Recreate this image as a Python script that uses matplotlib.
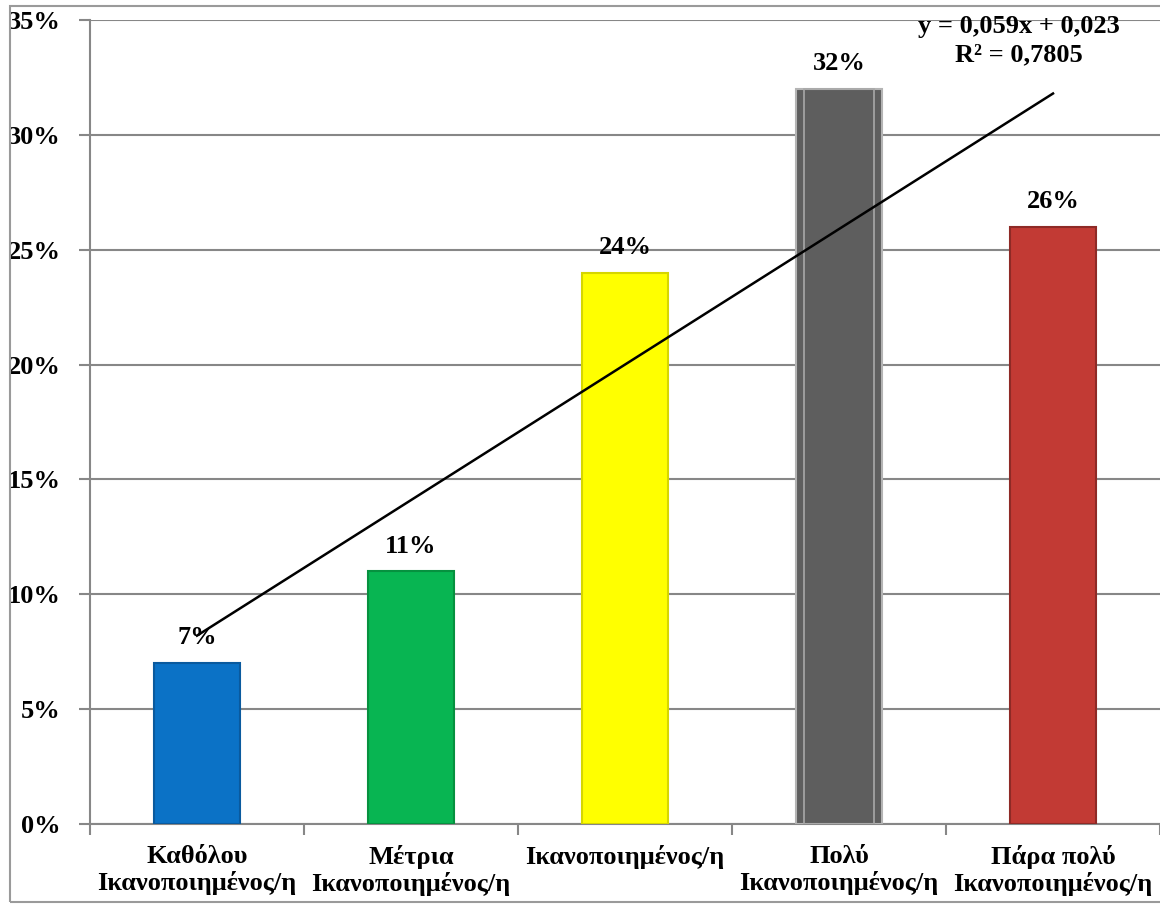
import numpy as np
import matplotlib
matplotlib.use("Agg")
import matplotlib.pyplot as plt
from matplotlib.patches import Rectangle

categories = ["Καθόλου\nΙκανοποιημένος/η", "Μέτρια\nΙκανοποιημένος/η", "Ικανοποιημένος/η",
              "Πολύ\nΙκανοποιημένος/η", "Πάρα πολύ\nΙκανοποιημένος/η"]
values = [0.07, 0.11, 0.24, 0.32, 0.26]
colors = ["#0B72C6", "#08B552", "#FFFF00", "#5E5E5E", "#C23A34"]
edges = ["#0A5A9E", "#06913F", "#D6D600", "#B4B4B4", "#8E2A26"]
yticks = [0, 0.05, 0.10, 0.15, 0.20, 0.25, 0.30, 0.35]

plt.rcParams['font.family'] = ['Liberation Serif', 'DejaVu Serif']
plt.rcParams['font.weight'] = 'bold'

fig = plt.figure(figsize=(11.6, 9.05), dpi=100)
fig.patches.append(Rectangle((10 / 1160, 0.003), 1.2, 0.99, transform=fig.transFigure,
                             fill=False, edgecolor='#9a9a9a', linewidth=1.5))
ax = fig.add_axes([90 / 1160, 81 / 905, 1 - 90 / 1160, 804 / 905])

x = np.arange(1, len(values) + 1)
ax.bar(x, values, width=0.405, color=colors, edgecolor=edges, linewidth=1.5, zorder=3)
# inner frame on grey bar
ax.bar(x[3], values[3], width=0.33, fill=False, edgecolor='#A8A8A8', linewidth=1.2, zorder=4)

for xi, v in zip(x, values):
    ax.text(xi, v + 0.006, f"{int(round(v * 100))}%", ha='center', va='bottom',
            fontsize=19, fontweight='bold', zorder=5)

# linear trendline
k, b = np.polyfit(x, values, 1)
ax.plot([x[0], x[-1]], [k * x[0] + b, k * x[-1] + b], color='black', linewidth=1.8, zorder=6)
r2 = np.corrcoef(x, values)[0, 1] ** 2
ax.text(4.84, 0.347, f"y = {k:.3f}x + {b:.3f}".replace('.', ','), ha='center', va='center',
        fontsize=19, fontweight='bold', zorder=7)
ax.text(4.84, 0.3348, f"R² = {r2:.4f}".replace('.', ','), ha='center', va='center',
        fontsize=19, fontweight='bold', zorder=7)

ax.set_xlim(0.5, 5.5)
ax.set_ylim(0, 0.35)
ax.set_yticks(yticks)
ax.set_yticklabels([f"{int(round(t * 100))}%" for t in yticks], fontsize=19, fontweight='bold')
ax.yaxis.grid(True, color='#878787', linewidth=1.5, zorder=0)
ax.set_axisbelow(True)

ax.set_xticks(x)
ax.set_xticklabels(categories, fontsize=19, fontweight='bold', linespacing=1.15)
ax.set_xticks(np.arange(0.5, 5.6, 1), minor=True)
ax.tick_params(axis='x', which='major', length=0, pad=15)
ax.tick_params(axis='x', which='minor', length=8, width=1.5, color='#878787', direction='out')
ax.tick_params(axis='y', length=8, width=1.5, color='#878787', pad=13)

for s in ['top', 'right']:
    ax.spines[s].set_visible(False)
for s in ['left', 'bottom']:
    ax.spines[s].set_color('#878787')
    ax.spines[s].set_linewidth(1.5)

fig.savefig("out.png", dpi=100)
